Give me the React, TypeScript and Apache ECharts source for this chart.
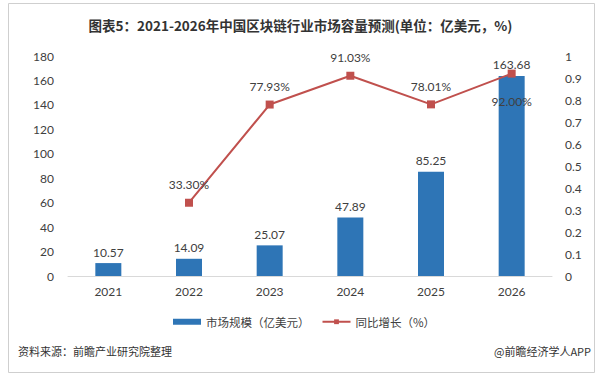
import React, { useEffect, useRef } from "react";
import * as echarts from "echarts";

const years = ["2021", "2022", "2023", "2024", "2025", "2026"];
const marketSize = [10.57, 14.09, 25.07, 47.89, 85.25, 163.68];
const growthPct: (number | null)[] = [null, 33.3, 77.93, 91.03, 78.01, 92.0];
const titleText = "图表5：2021-2026年中国区块链行业市场容量预测(单位：亿美元，%)";
const sourceText = "资料来源：前瞻产业研究院整理";
const brandText = "@前瞻经济学人APP";

const NUM_FONT = "Lato, 'Noto Sans CJK SC', sans-serif";
const CJK_FONT = "'Noto Sans CJK SC', sans-serif";

export default function App() {
  const ref = useRef<HTMLDivElement>(null);
  useEffect(() => {
    if (!ref.current) return;
    const chart = echarts.init(ref.current, null, { renderer: "svg" });
    const lineData = growthPct.map((v, i) =>
      v === null
        ? null
        : i === growthPct.length - 1
        ? { value: v / 100, label: { position: "bottom", distance: 18 } }
        : v / 100
    );
    chart.setOption({
      animation: false,
      backgroundColor: "#ffffff",
      title: {
        text: titleText,
        left: "center",
        top: 13,
        textStyle: { fontFamily: CJK_FONT, fontSize: 13.5, fontWeight: "bold", color: "#333333" },
      },
      graphic: [
        {
          type: "rect",
          shape: { x: 8.5, y: 3.5, width: 586, height: 369 },
          style: { fill: "none", stroke: "#cfcfcf", lineWidth: 1 },
          silent: true,
        },
        {
          type: "text",
          left: 18,
          top: 345,
          style: { text: sourceText, fontFamily: CJK_FONT, fontSize: 11, fill: "#333333" },
        },
        {
          type: "text",
          right: 10,
          top: 345,
          style: { text: brandText, fontFamily: CJK_FONT, fontSize: 11, fill: "#333333" },
        },
      ],
      legend: {
        left: 168,
        top: 311,
        itemGap: 12,
        itemWidth: 28,
        itemHeight: 6,
        textStyle: { fontFamily: CJK_FONT, fontSize: 11.5, color: "#404040" },
        data: [
          { name: "市场规模（亿美元）", icon: "rect" },
          { name: "同比增长（%）" },
        ],
      },
      grid: { left: 68, right: 49, top: 56, bottom: 105 },
      xAxis: {
        type: "category",
        data: years,
        axisLine: { lineStyle: { color: "#d9d9d9" } },
        axisTick: { show: false },
        axisLabel: { fontFamily: NUM_FONT, fontSize: 12, color: "#404040", margin: 9 },
      },
      yAxis: [
        {
          type: "value",
          min: 0,
          max: 180,
          interval: 20,
          splitLine: { show: false },
          axisLine: { show: false },
          axisTick: { show: false },
          axisLabel: { fontFamily: NUM_FONT, fontSize: 12, color: "#404040", margin: 14 },
        },
        {
          type: "value",
          min: 0,
          max: 1,
          interval: 0.1,
          splitLine: { show: false },
          axisLine: { show: false },
          axisTick: { show: false },
          axisLabel: { fontFamily: NUM_FONT, fontSize: 12, color: "#404040", margin: 13 },
        },
      ],
      series: [
        {
          name: "市场规模（亿美元）",
          type: "bar",
          data: marketSize,
          barWidth: 26,
          itemStyle: { color: "#2e75b6" },
          label: {
            show: true,
            position: "top",
            distance: 5,
            fontFamily: NUM_FONT,
            fontSize: 12,
            color: "#404040",
          },
        },
        {
          name: "同比增长（%）",
          type: "line",
          yAxisIndex: 1,
          data: lineData,
          symbol: "rect",
          symbolSize: 8,
          lineStyle: { color: "#c0504d", width: 2 },
          itemStyle: { color: "#c0504d" },
          label: {
            show: true,
            position: "top",
            distance: 8,
            fontFamily: NUM_FONT,
            fontSize: 12,
            color: "#404040",
            formatter: (p: any) => (p.value * 100).toFixed(2) + "%",
          },
          z: 5,
        },
      ],
    });
    return () => chart.dispose();
  }, []);
  return (
    <div
      ref={ref}
      style={{ position: "fixed", left: 0, top: 0, width: 601, height: 381 }}
    />
  );
}
